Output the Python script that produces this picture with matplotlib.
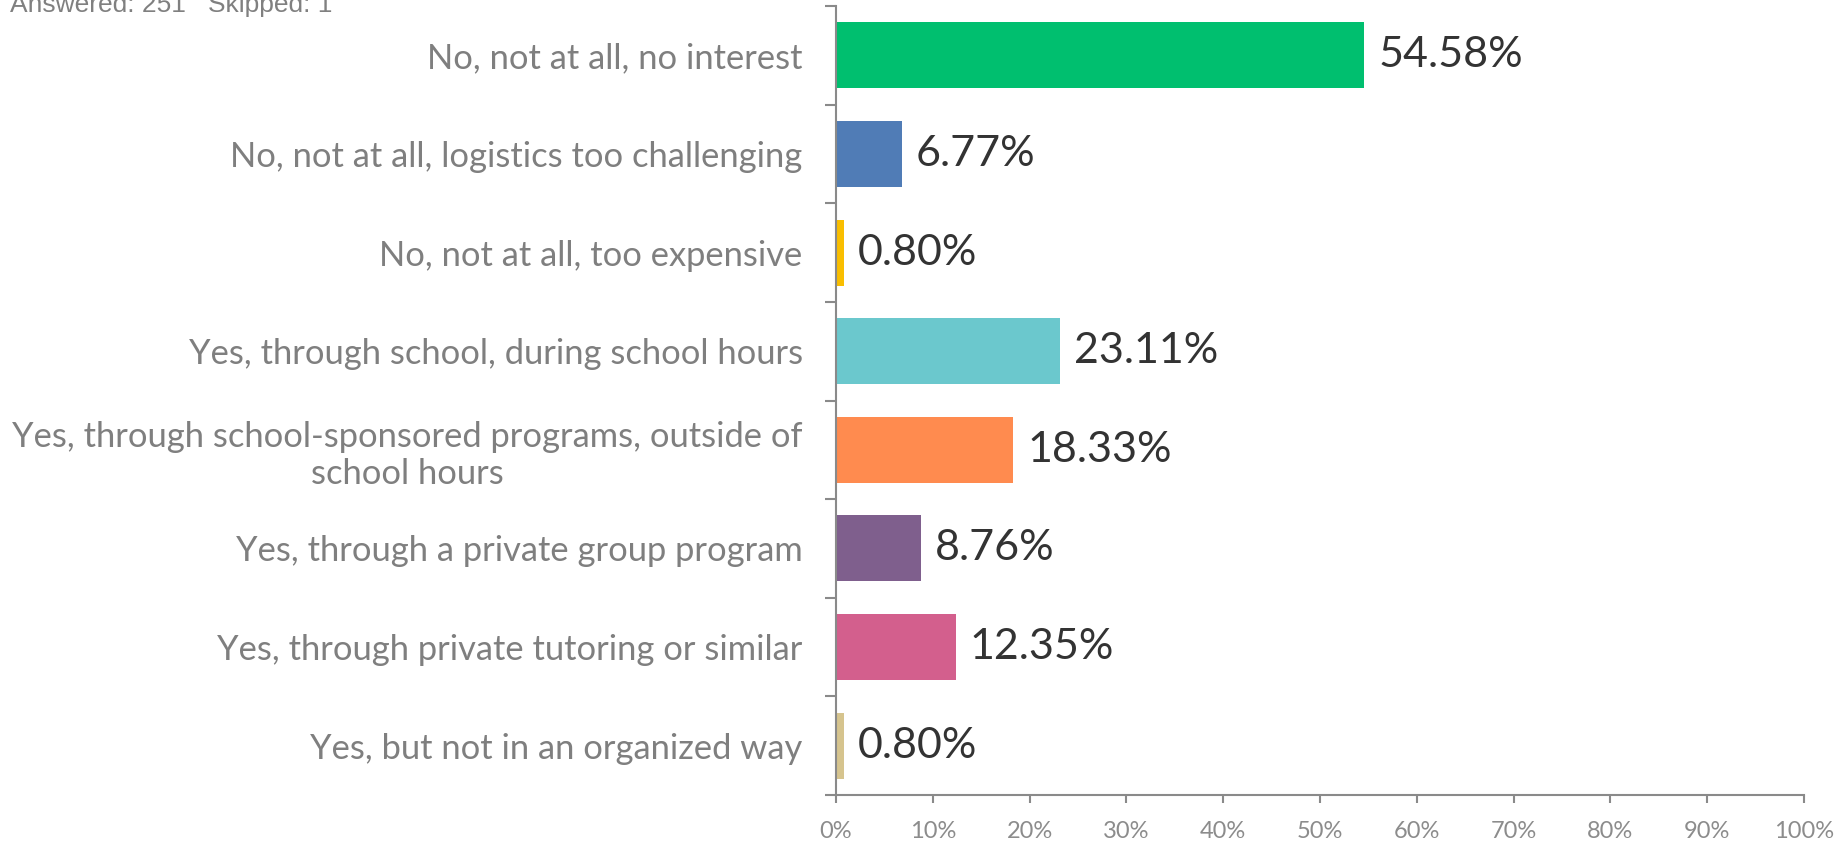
import numpy as np
import matplotlib.pyplot as plt

# answer options, top to bottom
categories = [
    'No, not at all, no interest',
    'No, not at all, logistics too challenging',
    'No, not at all, too expensive',
    'Yes, through school, during school hours',
    'Yes, through school-sponsored programs, outside of\nschool hours',
    'Yes, through a private group program',
    'Yes, through private tutoring or similar',
    'Yes, but not in an organized way',
]
percents = [54.58, 6.77, 0.80, 23.11, 18.33, 8.76, 12.35, 0.80]
bar_colors = ['#00BF6F', '#507CB6', '#F9BE00', '#6BC8CD',
              '#FF8B4F', '#7F5F8D', '#D35F8D', '#D6C48E']
x_ticks = list(range(0, 101, 10))

axis_gray = '#8a8a8a'

fig = plt.figure(figsize=(18.49, 8.42), dpi=100)
ax = fig.add_axes([836 / 1849, 1 - 795 / 842, (1804 - 836) / 1849, (795 - 6) / 842])

ypos = np.arange(len(categories))
bars = ax.barh(ypos, percents, height=0.67, color=bar_colors)

# value labels
for b, v in zip(bars, percents):
    ax.annotate('{:.2f}%'.format(v), xy=(b.get_width(), b.get_y() + b.get_height() / 2),
                xytext=(10, 0), textcoords='offset points', va='center', ha='left',
                fontsize=31, family='Lato', color='#333333')

ax.set_xlim(0, 100)
ax.set_ylim(len(categories) - 0.5, -0.5)

ax.set_xticks(x_ticks)
ax.set_xticklabels(['{}%'.format(t) for t in x_ticks], family='Lato', fontsize=17, color='#8c8c8c')
ax.tick_params(axis='x', length=6, width=1.5, color=axis_gray, pad=13)

# category labels sit on major ticks (hidden), boundary ticks are minor
ax.set_yticks(ypos)
ax.set_yticklabels(categories, family='Lato', fontsize=24.8, color='#7f7f7f', multialignment='center')
ax.tick_params(axis='y', which='major', length=0, pad=24)
ax.set_yticks(np.arange(-0.5, len(categories), 1.0), minor=True)
ax.tick_params(axis='y', which='minor', length=8, width=1.5, color=axis_gray)

for s in ['top', 'right']:
    ax.spines[s].set_visible(False)
for s in ['left', 'bottom']:
    ax.spines[s].set_color(axis_gray)
    ax.spines[s].set_linewidth(1.5)

fig.text(10 / 1849, 1 - 12 / 842, 'Answered: 251   Skipped: 1', family='Liberation Sans',
         fontsize=19, color='#808080', ha='left', va='baseline')

fig.savefig('out.png', dpi=100)
